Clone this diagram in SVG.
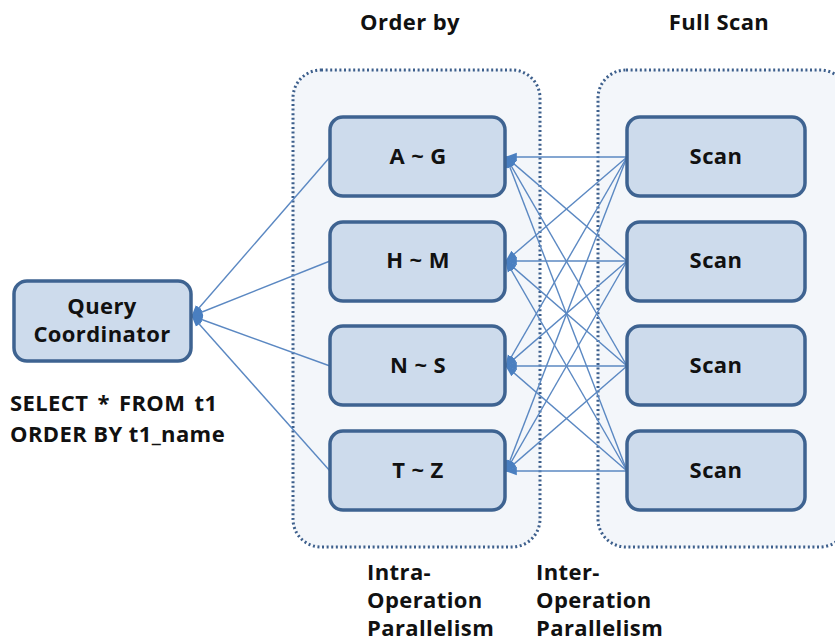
<svg xmlns="http://www.w3.org/2000/svg" width="835" height="641" viewBox="0 0 835 641">
  <style>
    .group { fill: #f3f6fa; stroke: #3d5f8c; stroke-width: 3; stroke-dasharray: 2 2.6; }
    .box { fill: #cddbec; stroke: #3e6391; stroke-width: 3.5; }
    .lbl { font-family: "Open Sans", "Liberation Sans", sans-serif; font-weight: bold; font-size: 22px; letter-spacing: 0.4px; fill: #111; }
    .mid { text-anchor: middle; }
    .edge { stroke: #5b88c2; stroke-width: 1.4; fill: none; marker-end: url(#arrow); }
  </style>
  <defs>
    <marker id="arrow" markerUnits="userSpaceOnUse" viewBox="0 0 10 10" refX="9" refY="5" markerWidth="12" markerHeight="12" orient="auto">
      <path d="M0,1.5 L10,5 L0,8.5 z" fill="#4a7fc0"/>
    </marker>
  </defs>
  <rect width="835" height="641" fill="#ffffff"/>

  <!-- operation groups -->
  <g id="orderby-group">
    <rect class="group" x="293" y="70" width="247" height="477" rx="28"/>
    <text class="lbl mid" x="410" y="30">Order by</text>
  </g>
  <g id="fullscan-group">
    <rect class="group" x="598" y="70" width="250" height="477" rx="28"/>
    <text class="lbl mid" x="719" y="30">Full Scan</text>
  </g>

  <!-- connectors -->
  <g id="connectors">
    <!-- sort ranges to coordinator -->
    <line class="edge" x1="330" y1="157" x2="192" y2="316"/>
    <line class="edge" x1="330" y1="261" x2="192" y2="316"/>
    <line class="edge" x1="330" y1="366" x2="192" y2="316"/>
    <line class="edge" x1="330" y1="471" x2="192" y2="316"/>
    <!-- scans to sort ranges -->
    <line class="edge" x1="627" y1="157" x2="506" y2="157"/>
    <line class="edge" x1="627" y1="261" x2="506" y2="157"/>
    <line class="edge" x1="627" y1="366" x2="506" y2="157"/>
    <line class="edge" x1="627" y1="471" x2="506" y2="157"/>
    <line class="edge" x1="627" y1="157" x2="506" y2="261"/>
    <line class="edge" x1="627" y1="261" x2="506" y2="261"/>
    <line class="edge" x1="627" y1="366" x2="506" y2="261"/>
    <line class="edge" x1="627" y1="471" x2="506" y2="261"/>
    <line class="edge" x1="627" y1="157" x2="506" y2="366"/>
    <line class="edge" x1="627" y1="261" x2="506" y2="366"/>
    <line class="edge" x1="627" y1="366" x2="506" y2="366"/>
    <line class="edge" x1="627" y1="471" x2="506" y2="366"/>
    <line class="edge" x1="627" y1="157" x2="506" y2="471"/>
    <line class="edge" x1="627" y1="261" x2="506" y2="471"/>
    <line class="edge" x1="627" y1="366" x2="506" y2="471"/>
    <line class="edge" x1="627" y1="471" x2="506" y2="471"/>
  </g>

  <!-- coordinator -->
  <g id="query-coordinator">
    <rect class="box" x="14" y="281" width="177" height="80" rx="13"/>
    <text class="lbl mid" x="102" y="314">Query</text>
    <text class="lbl mid" x="102" y="342">Coordinator</text>
  </g>
  <g id="query-text">
    <text class="lbl" x="10" y="411" word-spacing="3">SELECT * FROM t1</text>
    <text class="lbl" x="10" y="442">ORDER BY t1_name</text>
  </g>

  <!-- sort range nodes -->
  <g id="sort-a-g">
    <rect class="box" x="330" y="117" width="175" height="79" rx="13"/>
    <text class="lbl mid" x="418" y="164">A ~ G</text>
  </g>
  <g id="sort-h-m">
    <rect class="box" x="330" y="222" width="175" height="79" rx="13"/>
    <text class="lbl mid" x="418" y="268">H ~ M</text>
  </g>
  <g id="sort-n-s">
    <rect class="box" x="330" y="326" width="175" height="79" rx="13"/>
    <text class="lbl mid" x="418" y="373">N ~ S</text>
  </g>
  <g id="sort-t-z">
    <rect class="box" x="330" y="431" width="175" height="79" rx="13"/>
    <text class="lbl mid" x="418" y="478">T ~ Z</text>
  </g>

  <!-- scan nodes -->
  <g id="scan-1">
    <rect class="box" x="627" y="117" width="178" height="79" rx="13"/>
    <text class="lbl mid" x="716" y="164">Scan</text>
  </g>
  <g id="scan-2">
    <rect class="box" x="627" y="222" width="178" height="79" rx="13"/>
    <text class="lbl mid" x="716" y="268">Scan</text>
  </g>
  <g id="scan-3">
    <rect class="box" x="627" y="326" width="178" height="79" rx="13"/>
    <text class="lbl mid" x="716" y="373">Scan</text>
  </g>
  <g id="scan-4">
    <rect class="box" x="627" y="431" width="178" height="79" rx="13"/>
    <text class="lbl mid" x="716" y="478">Scan</text>
  </g>

  <!-- parallelism captions -->
  <g id="captions">
    <text class="lbl" x="367" y="580">Intra-</text>
    <text class="lbl" x="367" y="608">Operation</text>
    <text class="lbl" x="367" y="636">Parallelism</text>
    <text class="lbl" x="536" y="580">Inter-</text>
    <text class="lbl" x="536" y="608">Operation</text>
    <text class="lbl" x="536" y="636">Parallelism</text>
  </g>
</svg>
